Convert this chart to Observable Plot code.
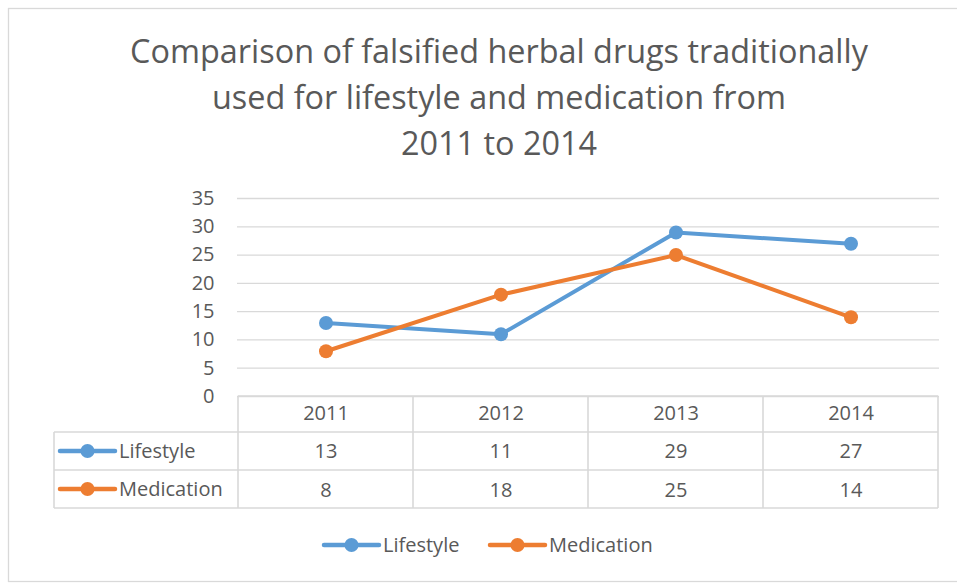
<!DOCTYPE html>
<html>
<head>
<meta charset="utf-8">
<script src="https://cdn.jsdelivr.net/npm/d3@7"></script>
<script src="https://cdn.jsdelivr.net/npm/@observablehq/plot@0.6"></script>
<style>
  html, body { margin: 0; padding: 0; background: #fff; }
  #chart svg { display: block; }
</style>
</head>
<body>
<div id="chart"></div>
<script>
// ---- data ----
const years = ["2011", "2012", "2013", "2014"];
const lifestyle = [13, 11, 29, 27];
const medication = [8, 18, 25, 14];
const seriesNames = ["Lifestyle", "Medication"];
const seriesColors = ["#5b9bd5", "#ed7d31"];
const yTicks = [0, 5, 10, 15, 20, 25, 30, 35];
const titleLines = [
  "Comparison of falsified herbal drugs traditionally",
  "used for lifestyle and medication from",
  "2011 to 2014"
];

// ---- build ----
const FONT = "'Open Sans', sans-serif";
const TXT = "#595959";
const GRID = "#d9d9d9";
const seriesValues = [lifestyle, medication];
const rows = seriesNames.flatMap((s, k) =>
  years.map((y, i) => ({ series: s, year: y, value: seriesValues[k][i] }))
);

const plot = Plot.plot({
  width: 957,
  height: 583,
  marginLeft: 237,
  marginRight: 18,
  marginTop: 198,
  marginBottom: 187,
  style: { fontFamily: FONT, color: TXT, background: "white", overflow: "visible" },
  x: { type: "band", domain: years, padding: 0, axis: null },
  y: { domain: [0, 35], ticks: yTicks },
  color: { domain: seriesNames, range: seriesColors },
  marks: [
    Plot.gridY(yTicks, { stroke: GRID, strokeOpacity: 1, strokeWidth: 1.3 }),
    Plot.axisY(yTicks, { tickSize: 0, tickPadding: 23, fontSize: 20, fill: TXT, label: null }),
    Plot.line(rows, { x: "year", y: "value", z: "series", stroke: "series", strokeWidth: 4, strokeLinejoin: "round" }),
    Plot.dot(rows, { x: "year", y: "value", fill: "series", r: 7, stroke: "none" }),
    // data table: header row and values
    Plot.text(years, { x: d => d, text: d => d, frameAnchor: "bottom", dy: 23, fontSize: 20, fill: TXT }),
    Plot.text(lifestyle, { x: (d, i) => years[i], text: d => String(d), frameAnchor: "bottom", dy: 61, fontSize: 20, fill: TXT }),
    Plot.text(medication, { x: (d, i) => years[i], text: d => String(d), frameAnchor: "bottom", dy: 100, fontSize: 20, fill: TXT })
  ]
});

document.getElementById("chart").appendChild(plot);

const svg = d3.select(plot);
const xs = plot.scale("x");
const ys = plot.scale("y");
const bw = xs.bandwidth;
const xLeft = xs.apply(years[0]);
const xRight = xs.apply(years[years.length - 1]) + bw;
const y0 = ys.apply(0);
const rowTops = [y0, y0 + 36, y0 + 74, y0 + 112];
const tableLeft = 54;

const g = svg.insert("g", ":first-child");
// outer border
g.append("rect").attr("x", 8.5).attr("y", 8.5).attr("width", 980).attr("height", 573)
  .attr("fill", "white").attr("stroke", GRID).attr("stroke-width", 1.3);

const tg = svg.append("g").attr("stroke", GRID).attr("stroke-width", 1.6);
// horizontal lines
tg.append("line").attr("x1", xLeft).attr("x2", xRight).attr("y1", rowTops[0]).attr("y2", rowTops[0]);
for (let k = 1; k < rowTops.length; k++) {
  tg.append("line").attr("x1", tableLeft).attr("x2", xRight).attr("y1", rowTops[k]).attr("y2", rowTops[k]);
}
// vertical lines
years.forEach(y => {
  const xv = xs.apply(y);
  tg.append("line").attr("x1", xv).attr("x2", xv).attr("y1", rowTops[0]).attr("y2", rowTops[3]);
});
tg.append("line").attr("x1", xRight).attr("x2", xRight).attr("y1", rowTops[0]).attr("y2", rowTops[3]);
tg.append("line").attr("x1", tableLeft).attr("x2", tableLeft).attr("y1", rowTops[1]).attr("y2", rowTops[3]);

// legend glyph helper
function glyph(parent, x, y, color, label) {
  const gg = parent.append("g");
  gg.append("line").attr("x1", x).attr("x2", x + 55).attr("y1", y).attr("y2", y)
    .attr("stroke", color).attr("stroke-width", 4.5).attr("stroke-linecap", "round");
  gg.append("circle").attr("cx", x + 27.5).attr("cy", y).attr("r", 7).attr("fill", color);
  gg.append("text").attr("x", x + 59).attr("y", y).attr("dy", "0.35em")
    .attr("text-anchor", "start")
    .attr("font-family", FONT).attr("font-size", 20).attr("fill", TXT).text(label);
}
// table row labels
seriesNames.forEach((s, k) => {
  const yc = (rowTops[k + 1] + rowTops[k + 2]) / 2;
  glyph(svg, 60, yc, seriesColors[k], s);
});
// bottom legend
glyph(svg, 324, 545, seriesColors[0], seriesNames[0]);
glyph(svg, 490, 545, seriesColors[1], seriesNames[1]);

// title
const tt = svg.append("g");
titleLines.forEach((t, i) => {
  tt.append("text").attr("x", 499).attr("y", 52 + i * 46).attr("dy", "0.35em")
    .attr("text-anchor", "middle").attr("font-family", FONT).attr("font-size", 32.4)
    .attr("fill", TXT).text(t);
});
</script>
</body>
</html>
